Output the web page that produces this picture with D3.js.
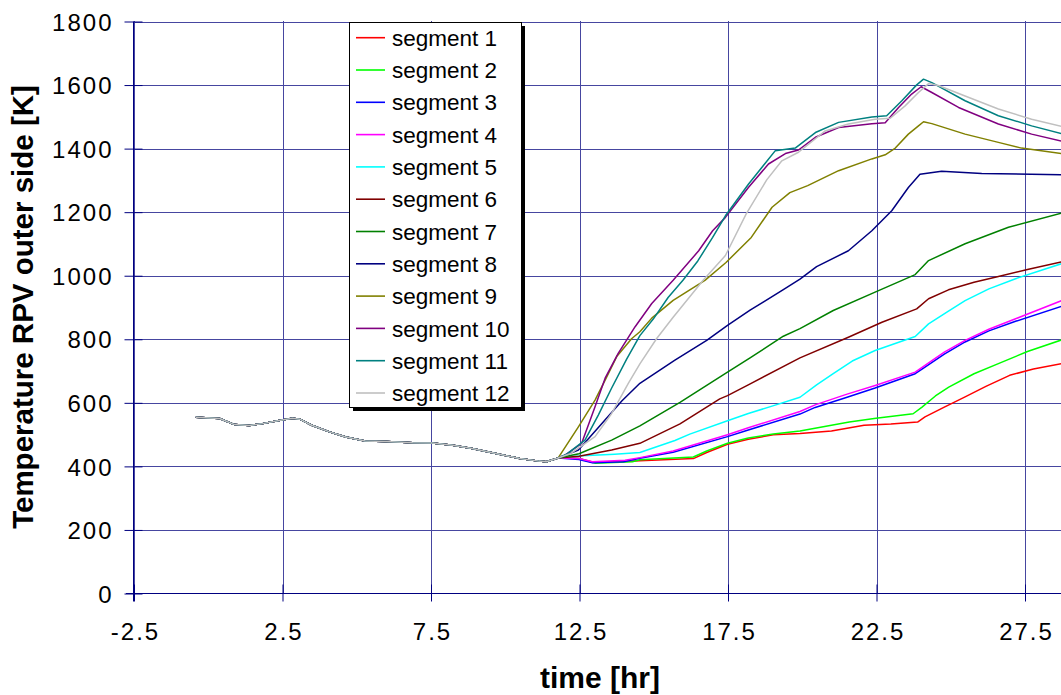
<!DOCTYPE html>
<html><head><meta charset="utf-8">
<script src="https://cdn.jsdelivr.net/npm/d3@7/dist/d3.min.js"></script>
<style>
html,body{margin:0;padding:0;background:#fff;overflow:hidden;}
svg{display:block;}
text{font-family:"Liberation Sans",Arial,sans-serif;}
</style></head>
<body>
<svg id="chart" width="1061" height="695"></svg>
<script>
// ---- data ----
const xTicks = [-2.5, 2.5, 7.5, 12.5, 17.5, 22.5, 27.5];
const yTicks = [0, 200, 400, 600, 800, 1000, 1200, 1400, 1600, 1800];
const segmentNames = ["segment 1","segment 2","segment 3","segment 4","segment 5","segment 6",
  "segment 7","segment 8","segment 9","segment 10","segment 11","segment 12"];
const segmentColors = ["#ff0000","#00ff00","#0000ff","#ff00ff","#00ffff","#800000",
  "#008000","#000080","#808000","#800080","#008080","#c0c0c0"];

// shared history (all segments identical) [time hr, temperature K]
const shared = [[-0.4,553],[0.4,549],[0.9,530],[1.4,527],[1.85,533],[2.4,543],[2.85,550],[3.1,547],
  [3.5,528],[4.1,507],[4.65,491],[5.3,478],[6.0,477],[6.9,473],[7.55,472],[8.25,465],[8.9,455],
  [9.7,439],[10.5,423],[11.15,415],[11.4,413],[11.8,425]];

const seg1 = [[12.5,423],[12.95,412],[14.0,414],[14.55,416],[16.35,423],[16.8,442],[17.5,468],[18.2,484],
  [19.04,498],[19.94,502],[21.0,510],[22.1,528],[23.0,532],[23.9,538],[24.15,554],[24.8,585],[25.5,617],
  [26.2,650],[27.0,685],[27.8,705],[28.8,723]];
const seg2 = [[12.5,423],[13.05,408],[14.3,413],[14.55,419],[16.35,428],[16.8,447],[17.5,471],[18.2,488],
  [19.04,500],[19.94,510],[21.0,528],[21.6,538],[22.5,550],[23.75,564],[24.05,585],[24.5,620],[24.95,648],
  [25.8,690],[26.6,721],[27.6,760],[28.8,798]];
const seg3 = [[12.5,420],[12.95,410],[14.0,413],[14.55,424],[15.67,443],[17.5,492],[18.2,513],[19.94,563],
  [20.45,584],[21.5,615],[22.47,645],[23.82,690],[24.1,708],[24.8,752],[25.5,790],[26.3,825],[27.2,855],[28.8,904]];
const seg4 = [[12.5,423],[12.95,413],[14.05,418],[14.55,426],[15.67,447],[17.5,498],[18.2,520],[19.94,571],
  [20.45,592],[21.5,625],[22.47,653],[23.82,695],[24.15,716],[24.8,758],[25.5,795],[26.3,830],[27.2,863],[28.8,922]];
const seg5 = [[12.6,432],[13.7,437],[14.55,442],[15.73,480],[16.23,500],[17.5,542],[18.2,565],[19.0,588],
  [19.94,616],[20.5,655],[21.06,690],[21.7,730],[22.47,763],[23.82,807],[24.27,847],[24.9,885],[25.5,920],
  [26.3,957],[27.2,989],[28.8,1038]];
const seg6 = [[12.5,430],[13.6,450],[14.55,471],[15.9,532],[17.24,611],[17.5,621],[18.2,655],[19.94,740],
  [21.57,805],[22.7,852],[23.87,894],[24.27,926],[24.94,954],[25.8,978],[26.62,996],[27.6,1018],[28.8,1043]];
const seg7 = [[12.5,438],[13.6,481],[14.55,526],[15.9,600],[17.5,695],[18.26,740],[19.38,808],[19.94,832],
  [21.06,889],[22.47,947],[23.82,1002],[24.27,1046],[25.5,1099],[26.96,1151],[28.8,1197]];
const seg8 = [[12.48,450],[13.1,515],[13.94,604],[14.55,660],[15.73,733],[16.8,795],[17.5,842],[18.26,890],
  [19.38,955],[19.94,988],[20.5,1027],[21.57,1077],[22.36,1140],[23.03,1203],[23.59,1276],[23.98,1318],
  [24.71,1327],[26.06,1320],[28.8,1316]];
const seg9 = [[12.48,523],[13.04,607],[13.38,670],[13.77,744],[14.27,800],[14.55,822],[14.95,865],[15.67,921],
  [16.74,984],[17.45,1040],[18.3,1119],[19.0,1214],[19.6,1260],[20.2,1282],[21.24,1329],[22.36,1366],
  [22.81,1379],[23.15,1400],[23.59,1444],[23.93,1470],[24.1,1483],[24.38,1477],[25.5,1444],[26.62,1418],
  [27.4,1400],[28.8,1382]];
const seg10 = [[12.03,434],[12.59,471],[13.04,586],[13.38,676],[13.82,754],[14.39,838],[14.95,911],[15.67,984],
  [16.53,1077],[17.0,1140],[17.43,1182],[18.21,1277],[18.88,1350],[19.45,1383],[19.89,1394],[20.46,1434],
  [21.24,1465],[22.36,1477],[22.81,1480],[23.26,1528],[23.7,1570],[24.02,1593],[24.38,1575],[25.28,1528],
  [26.62,1476],[27.74,1444],[28.8,1421]];
const seg11 = [[12.1,438],[12.7,481],[13.15,560],[13.6,645],[14.1,735],[14.55,810],[15.0,862],[15.5,930],
  [16.0,984],[16.5,1045],[17.0,1119],[17.43,1187],[18.21,1287],[19.11,1392],[19.78,1400],[20.46,1449],
  [21.24,1481],[22.36,1498],[22.86,1502],[23.37,1549],[23.87,1599],[24.1,1617],[24.38,1606],[25.5,1549],
  [26.62,1502],[27.74,1470],[28.8,1444]];
const seg12 = [[12.2,438],[13.04,492],[13.6,565],[14.16,660],[14.55,721],[15.11,800],[15.67,868],[16.68,984],
  [17.43,1062],[18.13,1193],[18.82,1300],[19.33,1360],[19.89,1387],[20.79,1454],[21.57,1476],[22.47,1491],
  [22.98,1494],[23.48,1533],[23.93,1575],[24.27,1603],[24.6,1597],[25.5,1564],[26.62,1523],[27.74,1491],
  [28.8,1467]];
const segments = [seg1,seg2,seg3,seg4,seg5,seg6,seg7,seg8,seg9,seg10,seg11,seg12];

// ---- drawing ----
const svg = d3.select("#chart");
const x = d3.scaleLinear().domain([-2.5, 32.5]).range([133.5, 133.5 + 7 * 148.5]);
const y = d3.scaleLinear().domain([0, 1800]).range([593, 21]);
const gridColor = "#4646a0", axisColor = "#000080";
const fmt = d => String(d);

// gridlines
svg.append("g").attr("transform", "translate(0.5,0)")
  .call(d3.axisBottom(x).tickValues(xTicks).tickSize(0).tickFormat(""))
  .call(g => g.select(".domain").remove())
  .call(g => g.selectAll(".tick line").attr("y1", y(0)).attr("y2", y(1800))
      .attr("stroke", gridColor).attr("shape-rendering","crispEdges"));
svg.append("g").attr("transform", "translate(0,0.5)")
  .call(d3.axisLeft(y).tickValues(yTicks.slice(1)).tickSize(0).tickFormat(""))
  .call(g => g.select(".domain").remove())
  .call(g => g.selectAll(".tick line").attr("x1", x(-2.5)).attr("x2", 1061)
      .attr("stroke", gridColor).attr("shape-rendering","crispEdges"));

// series
const line = d3.line().x(d => x(d[0])).y(d => y(d[1]));
svg.append("g").selectAll("path").data(segments).join("path")
  .attr("d", d => line(shared.concat(d)))
  .attr("fill", "none")
  .attr("stroke", (d, i) => segmentColors[i])
  .attr("stroke-width", 1.5)
  .attr("stroke-linejoin", "round");

// axes
const xAxis = svg.append("g").attr("transform", `translate(0.5,${y(0) + 0.5})`)
  .call(d3.axisBottom(x).tickValues(xTicks).tickSizeOuter(0).tickSize(8).tickPadding(0).tickFormat(fmt));
xAxis.select(".domain").attr("d", `M${x(-2.5) - 8},0H1061`).attr("stroke", axisColor);
xAxis.selectAll(".tick line").attr("y1", -9).attr("y2", 8).attr("stroke", axisColor);
xAxis.selectAll(".tick text").attr("y", 46).attr("dy", 0).attr("dx", 1)
  .style("font-size", "24px").style("letter-spacing", "2px").attr("fill", "#000");

const yAxis = svg.append("g").attr("transform", `translate(${x(-2.5)},0.5)`)
  .call(d3.axisLeft(y).tickValues(yTicks).tickSizeOuter(0).tickSize(8).tickPadding(0).tickFormat(fmt));
yAxis.select(".domain").attr("d", `M0,${y(1800)}V${y(0) + 8}`).attr("stroke", axisColor);
yAxis.selectAll(".tick line").attr("x1", -9).attr("x2", 9).attr("stroke", axisColor);
yAxis.selectAll(".tick text").attr("x", -20).attr("dy", "0.36em")
  .style("font-size", "24px").style("letter-spacing", "2px").attr("fill", "#000");

// axis titles
svg.append("text").attr("transform", `translate(33,307) rotate(-90)`)
  .attr("text-anchor", "middle").style("font-size", "29.5px").style("font-weight", "bold")
  .text("Temperature RPV outer side [K]");
svg.append("text").attr("x", 600).attr("y", 688)
  .attr("text-anchor", "middle").style("font-size", "30px").style("font-weight", "bold")
  .text("time [hr]");

// legend
const lg = svg.append("g");
lg.append("rect").attr("x", 353).attr("y", 26).attr("width", 172).attr("height", 385).attr("fill", "#000");
lg.append("rect").attr("x", 349.5).attr("y", 22.5).attr("width", 172).attr("height", 385)
  .attr("fill", "#fff").attr("stroke", "#000").attr("stroke-width", 1);
const items = lg.selectAll("g.item").data(segmentNames).join("g").attr("class", "item")
  .attr("transform", (d, i) => `translate(0,${37.7 + i * 32.3})`);
items.append("line").attr("x1", 356).attr("x2", 385).attr("y1", 0).attr("y2", 0)
  .attr("stroke", (d, i) => segmentColors[i]).attr("stroke-width", 1.6);
items.append("text").attr("x", 392).attr("y", 0).attr("dy", "0.36em")
  .style("font-size", "22.5px").text(d => d);
</script>
</body></html>
